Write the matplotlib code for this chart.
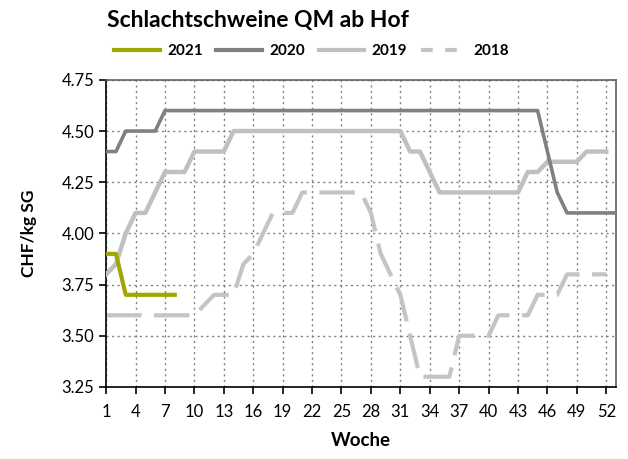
import matplotlib
matplotlib.use("Agg")
import matplotlib.pyplot as plt
from matplotlib.lines import Line2D

plt.rcParams["font.family"] = ["Lato", "DejaVu Sans"]

# Wochen
weeks_52 = list(range(1, 53))
weeks_53 = list(range(1, 54))
weeks_2021 = list(range(1, 9))

# Preise CHF/kg SG
price_2021 = [3.9, 3.9, 3.7, 3.7, 3.7, 3.7, 3.7, 3.7]

price_2020 = [4.4, 4.4, 4.5, 4.5, 4.5, 4.5] + [4.6] * 39 + [4.4, 4.2, 4.1, 4.1, 4.1, 4.1, 4.1, 4.1]

price_2019 = [3.8, 3.85, 4.0, 4.1, 4.1, 4.2, 4.3, 4.3, 4.3, 4.4, 4.4, 4.4, 4.4] \
    + [4.5] * 18 \
    + [4.4, 4.4, 4.3, 4.2, 4.2, 4.2, 4.2, 4.2, 4.2, 4.2, 4.2, 4.2,
       4.3, 4.3, 4.35, 4.35, 4.35, 4.35, 4.4, 4.4, 4.4]

price_2018 = [3.6, 3.6, 3.6, 3.6, 3.6, 3.6, 3.6, 3.6, 3.6, 3.6, 3.65, 3.7, 3.7, 3.7,
              3.85, 3.9, 4.0, 4.1, 4.1, 4.1, 4.2, 4.2, 4.2, 4.2, 4.2, 4.2, 4.2,
              4.1, 3.9, 3.8, 3.7, 3.5, 3.3, 3.3, 3.3, 3.3, 3.5, 3.5, 3.5, 3.5,
              3.6, 3.6, 3.6, 3.6, 3.7, 3.7, 3.7, 3.8, 3.8, 3.8, 3.8, 3.8]

x_ticks = list(range(1, 53, 3))
y_ticks = [3.25, 3.50, 3.75, 4.00, 4.25, 4.50, 4.75]

c_2021 = "#a0a800"
c_2020 = "#808080"
c_2019 = "#c0c0c0"
c_2018 = "#c4c4c4"

fig = plt.figure(figsize=(6.28, 4.59), dpi=100)
ax = fig.add_axes([0.169, 0.157, 0.812, 0.669])

ax.plot(weeks_52, price_2018, color=c_2018, lw=3, dashes=(8.5, 3), zorder=2)
ax.plot(weeks_52, price_2019, color=c_2019, lw=3.2, zorder=3)
ax.plot(weeks_53, price_2020, color=c_2020, lw=2.6, zorder=4)
ax.plot(weeks_2021, price_2021, color=c_2021, lw=3, zorder=5)

ax.set_xlim(1, 53)
ax.set_ylim(3.25, 4.75)
ax.set_xticks(x_ticks)
ax.set_yticks(y_ticks)
ax.set_yticklabels([f"{v:.2f}" for v in y_ticks])
ax.tick_params(axis="both", labelsize=12, length=5, width=1.2, direction="out")
ax.tick_params(axis="x", pad=7)
ax.grid(True, color="#808080", linestyle=(0, (1.5, 2.5)), linewidth=1)
ax.set_axisbelow(True)

for side in ["left", "bottom"]:
    ax.spines[side].set_color("black")
    ax.spines[side].set_linewidth(1.2)
for side in ["top", "right"]:
    ax.spines[side].set_color("#606060")
    ax.spines[side].set_linewidth(1.2)

ax.set_xlabel("Woche", fontsize=13.5, fontweight="bold", labelpad=9)
ax.set_ylabel("CHF/kg SG", fontsize=12.5, fontweight="bold", labelpad=18)

fig.text(0.170, 0.955, "Schlachtschweine QM ab Hof", fontsize=16.5, fontweight="bold",
         ha="left", va="center")

handles = [
    Line2D([], [], color=c_2021, lw=3),
    Line2D([], [], color=c_2020, lw=3),
    Line2D([], [], color=c_2019, lw=3),
    Line2D([], [], color=c_2018, lw=3, dashes=(2.8, 3)),
]
fig.legend(handles, ["2021", "2020", "2019", "2018"], loc="center left",
           bbox_to_anchor=(0.160, 0.888), ncol=4, frameon=False,
           prop={"size": 11, "weight": "bold"}, handlelength=3.0,
           handletextpad=0.45, columnspacing=0.9)

fig.savefig("out.png", dpi=100)
